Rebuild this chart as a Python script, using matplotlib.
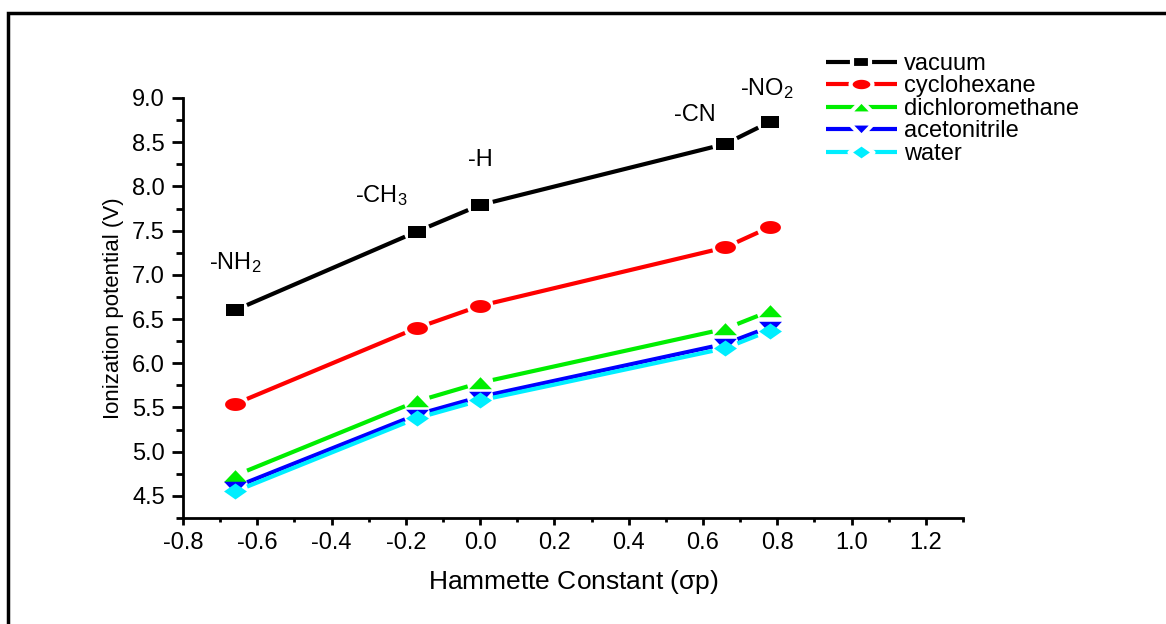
import matplotlib

matplotlib.use("Agg")
import matplotlib.pyplot as plt
import numpy as np
from matplotlib.lines import Line2D
from matplotlib.patches import Rectangle
from matplotlib.path import Path

# Hammett constants of the substituents
sigma_p = [-0.66, -0.17, 0.0, 0.66, 0.78]
substituents = [r"-NH$_2$", r"-CH$_3$", "-H", "-CN", r"-NO$_2$"]

vacuum = [6.60, 7.49, 7.79, 8.48, 8.73]
cyclohexane = [5.54, 6.40, 6.65, 7.31, 7.54]
dichloromethane = [4.73, 5.57, 5.78, 6.39, 6.59]
acetonitrile = [4.60, 5.42, 5.62, 6.22, 6.41]
water = [4.55, 5.38, 5.58, 6.17, 6.37]

series_names = ["vacuum", "cyclohexane", "dichloromethane", "acetonitrile", "water"]
series_values = [vacuum, cyclohexane, dichloromethane, acetonitrile, water]
colors = ["#000000", "#FF0000", "#00EE00", "#0000FF", "#00EEFF"]

x_ticks = [-0.8, -0.6, -0.4, -0.2, 0.0, 0.2, 0.4, 0.6, 0.8, 1.0, 1.2]
y_ticks = [4.5, 5.0, 5.5, 6.0, 6.5, 7.0, 7.5, 8.0, 8.5, 9.0]

# label anchor points (data coords) for the substituent names
label_x = [-0.66, -0.265, 0.0, 0.578, 0.772]
label_y = [7.14, 7.90, 8.30, 8.81, 9.11]

# Origin-style markers, squashed vertically (the source image is stretched)
sq = Path([(-1, -0.65), (1, -0.65), (1, 0.65), (-1, 0.65), (-1, -0.65)], closed=True)
t = np.linspace(0, 2 * np.pi, 60)
ell = Path(np.column_stack([np.cos(t), 0.62 * np.sin(t)]), closed=True)
tri_up = Path([(-1, -0.5), (1, -0.5), (0, 0.55), (-1, -0.5)], closed=True)
tri_dn = Path([(-1, 0.5), (1, 0.5), (0, -0.55), (-1, 0.5)], closed=True)
dia = Path([(-1, 0), (0, 0.7), (1, 0), (0, -0.7), (-1, 0)], closed=True)
markers = [sq, ell, tri_up, tri_dn, dia]
msizes = [12.5, 15, 16.5, 16.5, 16.5]

plt.rcParams.update({
    "font.family": ["Liberation Sans", "DejaVu Sans"],
    "mathtext.fontset": "custom",
    "mathtext.rm": "Liberation Sans",
    "mathtext.it": "Liberation Sans",
    "axes.linewidth": 2.0,
})

fig = plt.figure(figsize=(11.66, 6.24), dpi=100)
ax = fig.add_axes([183 / 1166, 1 - 518 / 624, (963 - 183) / 1166, (518 - 98) / 624])
ax.set_xlim(-0.8, 1.3)
ax.set_ylim(4.25, 9.0)

ax.spines["top"].set_visible(False)
ax.spines["right"].set_visible(False)
ax.set_xticks(x_ticks)
ax.set_xticklabels([f"{v:.1f}" for v in x_ticks])
ax.set_xticks(np.array(x_ticks) + 0.1, minor=True)
ax.set_yticks(y_ticks)
ax.set_yticklabels([f"{v:.1f}" for v in y_ticks])
ax.set_yticks(np.arange(4.25, 9.01, 0.25), minor=True)
ax.tick_params(axis="x", which="major", length=5, width=2, labelsize=17, pad=5)
ax.tick_params(axis="x", which="minor", length=3, width=2)
ax.tick_params(axis="y", which="major", length=8, width=2, labelsize=17, pad=5)
ax.tick_params(axis="y", which="minor", length=5, width=2)

ax.set_xlabel(r"Hammette Constant ($\sigma$p)", fontsize=19, labelpad=10)
ax.set_ylabel("Ionization potential (V)", fontsize=16, labelpad=6)

fig.canvas.draw()
gap = 13.0  # px cut from each segment end, leaves a gap around markers
to_disp = ax.transData
to_data = ax.transData.inverted()
handles = []
for name, vals, col, mk, ms in zip(series_names, series_values, colors, markers, msizes):
    pts = to_disp.transform(np.column_stack([sigma_p, vals]))
    for p0, p1 in zip(pts[:-1], pts[1:]):
        d = p1 - p0
        u = d / np.hypot(*d)
        seg = to_data.transform(np.array([p0 + u * gap, p1 - u * gap]))
        ax.plot(seg[:, 0], seg[:, 1], color=col, lw=3, solid_capstyle="butt", zorder=2)
    ax.plot(sigma_p, vals, ls="none", marker=mk, ms=ms, mfc=col, mec=col, mew=0, zorder=3)
    handles.append(Line2D([], [], color=col, lw=3, marker=mk, ms=ms * 1.05,
                          mfc=col, mec="white", mew=3, solid_capstyle="butt"))

for lab, lx, ly in zip(substituents, label_x, label_y):
    ax.text(lx, ly, lab, fontsize=17, ha="center", va="center")

fig.legend(handles, series_names, loc="upper left", bbox_to_anchor=(826 / 1166, 1 - 53 / 624),
           frameon=False, fontsize=17, handlelength=3.0, handletextpad=0.3,
           labelspacing=0.02, borderpad=0, borderaxespad=0)

fig.patches.append(Rectangle((8 / 1166, -0.1), 1.2, 1 - 13 / 624 + 0.1, transform=fig.transFigure,
                             fill=False, edgecolor="black", lw=2.5, clip_on=False))

fig.savefig("out.png", dpi=100)
